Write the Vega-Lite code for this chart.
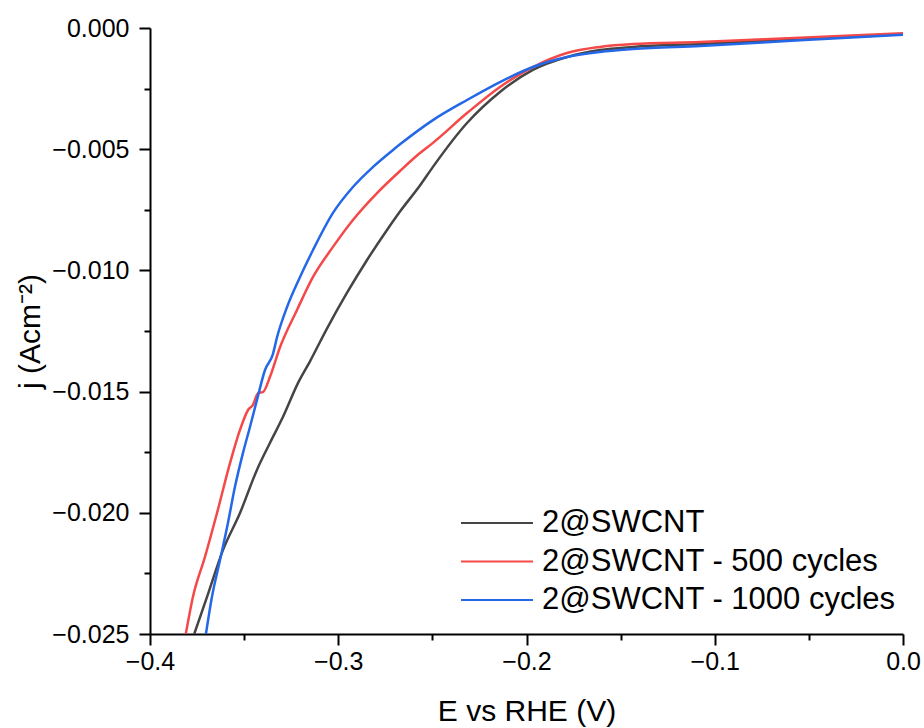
{
  "$schema": "https://vega.github.io/schema/vega-lite/v6.json",
  "width": 753,
  "height": 606,
  "autosize": "none",
  "padding": {"left": 150, "top": 28, "right": 21, "bottom": 94},
  "background": "white",
  "config": {
    "view": {"stroke": null},
    "font": "Liberation Sans",
    "axis": {
      "grid": false,
      "domainColor": "black",
      "domainWidth": 2,
      "tickColor": "black",
      "tickWidth": 2,
      "labelColor": "black",
      "titleColor": "black",
      "labelFont": "Liberation Sans",
      "titleFont": "Liberation Sans",
      "titleFontWeight": "normal",
      "labelFlush": false
    }
  },
  "data": {
    "values": [
      {"series": "2@SWCNT", "E": -0.3765, "j": -0.025},
      {"series": "2@SWCNT", "E": -0.3697, "j": -0.02347},
      {"series": "2@SWCNT", "E": -0.3612, "j": -0.02153},
      {"series": "2@SWCNT", "E": -0.3522, "j": -0.02001},
      {"series": "2@SWCNT", "E": -0.3432, "j": -0.01823},
      {"series": "2@SWCNT", "E": -0.3363, "j": -0.01712},
      {"series": "2@SWCNT", "E": -0.3294, "j": -0.01605},
      {"series": "2@SWCNT", "E": -0.3214, "j": -0.01465},
      {"series": "2@SWCNT", "E": -0.315, "j": -0.01375},
      {"series": "2@SWCNT", "E": -0.306, "j": -0.01240},
      {"series": "2@SWCNT", "E": -0.2954, "j": -0.01093},
      {"series": "2@SWCNT", "E": -0.2847, "j": -0.00957},
      {"series": "2@SWCNT", "E": -0.2741, "j": -0.00833},
      {"series": "2@SWCNT", "E": -0.2672, "j": -0.00757},
      {"series": "2@SWCNT", "E": -0.2566, "j": -0.00650},
      {"series": "2@SWCNT", "E": -0.2497, "j": -0.00573},
      {"series": "2@SWCNT", "E": -0.2316, "j": -0.00392},
      {"series": "2@SWCNT", "E": -0.2141, "j": -0.00264},
      {"series": "2@SWCNT", "E": -0.1966, "j": -0.00173},
      {"series": "2@SWCNT", "E": -0.1785, "j": -0.0012},
      {"series": "2@SWCNT", "E": -0.161, "j": -0.00091},
      {"series": "2@SWCNT", "E": -0.1434, "j": -0.00078},
      {"series": "2@SWCNT", "E": -0.1078, "j": -0.00066},
      {"series": "2@SWCNT", "E": -0.0547, "j": -0.00046},
      {"series": "2@SWCNT", "E": 0, "j": -0.00026},
      {"series": "2@SWCNT - 500 cycles", "E": -0.381, "j": -0.025},
      {"series": "2@SWCNT - 500 cycles", "E": -0.3772, "j": -0.02347},
      {"series": "2@SWCNT - 500 cycles", "E": -0.3708, "j": -0.02182},
      {"series": "2@SWCNT - 500 cycles", "E": -0.3644, "j": -0.02001},
      {"series": "2@SWCNT - 500 cycles", "E": -0.3575, "j": -0.01795},
      {"series": "2@SWCNT - 500 cycles", "E": -0.3522, "j": -0.01658},
      {"series": "2@SWCNT - 500 cycles", "E": -0.3479, "j": -0.01576},
      {"series": "2@SWCNT - 500 cycles", "E": -0.3453, "j": -0.01555},
      {"series": "2@SWCNT - 500 cycles", "E": -0.3426, "j": -0.01506},
      {"series": "2@SWCNT - 500 cycles", "E": -0.34, "j": -0.01502},
      {"series": "2@SWCNT - 500 cycles", "E": -0.3363, "j": -0.0144},
      {"series": "2@SWCNT - 500 cycles", "E": -0.3309, "j": -0.01316},
      {"series": "2@SWCNT - 500 cycles", "E": -0.3219, "j": -0.01163},
      {"series": "2@SWCNT - 500 cycles", "E": -0.3134, "j": -0.01027},
      {"series": "2@SWCNT - 500 cycles", "E": -0.3028, "j": -0.00903},
      {"series": "2@SWCNT - 500 cycles", "E": -0.2922, "j": -0.00792},
      {"series": "2@SWCNT - 500 cycles", "E": -0.2794, "j": -0.00681},
      {"series": "2@SWCNT - 500 cycles", "E": -0.2672, "j": -0.0059},
      {"series": "2@SWCNT - 500 cycles", "E": -0.2566, "j": -0.00516},
      {"series": "2@SWCNT - 500 cycles", "E": -0.2497, "j": -0.00474},
      {"series": "2@SWCNT - 500 cycles", "E": -0.2316, "j": -0.00351},
      {"series": "2@SWCNT - 500 cycles", "E": -0.2141, "j": -0.00243},
      {"series": "2@SWCNT - 500 cycles", "E": -0.1966, "j": -0.00161},
      {"series": "2@SWCNT - 500 cycles", "E": -0.1785, "j": -0.00103},
      {"series": "2@SWCNT - 500 cycles", "E": -0.161, "j": -0.00078},
      {"series": "2@SWCNT - 500 cycles", "E": -0.1434, "j": -0.00066},
      {"series": "2@SWCNT - 500 cycles", "E": -0.1078, "j": -0.00058},
      {"series": "2@SWCNT - 500 cycles", "E": -0.0547, "j": -0.0004},
      {"series": "2@SWCNT - 500 cycles", "E": 0, "j": -0.00022},
      {"series": "2@SWCNT - 1000 cycles", "E": -0.3703, "j": -0.025},
      {"series": "2@SWCNT - 1000 cycles", "E": -0.3671, "j": -0.02347},
      {"series": "2@SWCNT - 1000 cycles", "E": -0.3628, "j": -0.02195},
      {"series": "2@SWCNT - 1000 cycles", "E": -0.3586, "j": -0.02042},
      {"series": "2@SWCNT - 1000 cycles", "E": -0.3549, "j": -0.01894},
      {"series": "2@SWCNT - 1000 cycles", "E": -0.3506, "j": -0.01753},
      {"series": "2@SWCNT - 1000 cycles", "E": -0.3469, "j": -0.01646},
      {"series": "2@SWCNT - 1000 cycles", "E": -0.3432, "j": -0.01535},
      {"series": "2@SWCNT - 1000 cycles", "E": -0.3389, "j": -0.01411},
      {"series": "2@SWCNT - 1000 cycles", "E": -0.3347, "j": -0.01345},
      {"series": "2@SWCNT - 1000 cycles", "E": -0.3325, "j": -0.01275},
      {"series": "2@SWCNT - 1000 cycles", "E": -0.3272, "j": -0.01151},
      {"series": "2@SWCNT - 1000 cycles", "E": -0.3203, "j": -0.01027},
      {"series": "2@SWCNT - 1000 cycles", "E": -0.3134, "j": -0.00916},
      {"series": "2@SWCNT - 1000 cycles", "E": -0.3028, "j": -0.00763},
      {"series": "2@SWCNT - 1000 cycles", "E": -0.2922, "j": -0.00656},
      {"series": "2@SWCNT - 1000 cycles", "E": -0.2815, "j": -0.00573},
      {"series": "2@SWCNT - 1000 cycles", "E": -0.2709, "j": -0.00503},
      {"series": "2@SWCNT - 1000 cycles", "E": -0.2672, "j": -0.0048},
      {"series": "2@SWCNT - 1000 cycles", "E": -0.2497, "j": -0.0038},
      {"series": "2@SWCNT - 1000 cycles", "E": -0.2316, "j": -0.00297},
      {"series": "2@SWCNT - 1000 cycles", "E": -0.2141, "j": -0.00223},
      {"series": "2@SWCNT - 1000 cycles", "E": -0.1966, "j": -0.00161},
      {"series": "2@SWCNT - 1000 cycles", "E": -0.1785, "j": -0.0012},
      {"series": "2@SWCNT - 1000 cycles", "E": -0.161, "j": -0.00099},
      {"series": "2@SWCNT - 1000 cycles", "E": -0.1434, "j": -0.00087},
      {"series": "2@SWCNT - 1000 cycles", "E": -0.1078, "j": -0.00074},
      {"series": "2@SWCNT - 1000 cycles", "E": -0.0547, "j": -0.00051},
      {"series": "2@SWCNT - 1000 cycles", "E": 0, "j": -0.00028}
    ]
  },
  "layer": [
    {
      "mark": {"type": "line", "clip": true, "strokeWidth": 2.5, "interpolate": "monotone"},
      "encoding": {
        "x": {
          "field": "E", "type": "quantitative",
          "scale": {"domain": [-0.4, 0], "nice": false, "zero": false},
          "axis": {
            "orient": "bottom",
            "values": [-0.4, -0.3, -0.2, -0.1, 0],
            "format": ".1f",
            "tickSize": 11,
            "labelFontSize": 25,
            "labelPadding": 4,
            "title": "E vs RHE (V)",
            "titleFontSize": 30,
            "titlePadding": 22
          }
        },
        "y": {
          "field": "j", "type": "quantitative",
          "scale": {"domain": [-0.025, 0], "nice": false, "zero": false},
          "axis": {
            "orient": "left",
            "values": [0, -0.005, -0.01, -0.015, -0.02, -0.025],
            "format": ".3f",
            "tickSize": 11,
            "labelFontSize": 25,
            "labelPadding": 10,
            "title": "j (Acm⁻²)",
            "titleFontSize": 30,
            "titlePadding": 6
          }
        },
        "color": {
          "field": "series", "type": "nominal",
          "scale": {
            "domain": ["2@SWCNT", "2@SWCNT - 500 cycles", "2@SWCNT - 1000 cycles"],
            "range": ["#454545", "#f54848", "#2468e8"]
          },
          "legend": {
            "orient": "none",
            "legendX": 310,
            "legendY": 476,
            "title": null,
            "symbolType": "stroke",
            "symbolSize": 5184,
            "symbolStrokeWidth": 2,
            "labelFontSize": 31,
            "labelFont": "Liberation Sans",
            "labelColor": "black",
            "labelOffset": 8,
            "labelLimit": 0,
            "clipHeight": 38,
            "rowPadding": 0.5,
            "padding": 0
          }
        }
      }
    },
    {
      "mark": {"type": "line", "opacity": 0},
      "encoding": {
        "x": {
          "field": "E", "type": "quantitative",
          "axis": {
            "orient": "bottom",
            "values": [-0.35, -0.25, -0.15, -0.05],
            "labels": false,
            "domain": false,
            "tickSize": 6,
            "title": null
          }
        },
        "y": {
          "field": "j", "type": "quantitative",
          "axis": {
            "orient": "left",
            "values": [-0.0025, -0.0075, -0.0125, -0.0175, -0.0225],
            "labels": false,
            "domain": false,
            "tickSize": 6,
            "title": null
          }
        },
        "detail": {"field": "series", "type": "nominal"}
      }
    }
  ],
  "resolve": {"axis": {"x": "independent", "y": "independent"}}
}
